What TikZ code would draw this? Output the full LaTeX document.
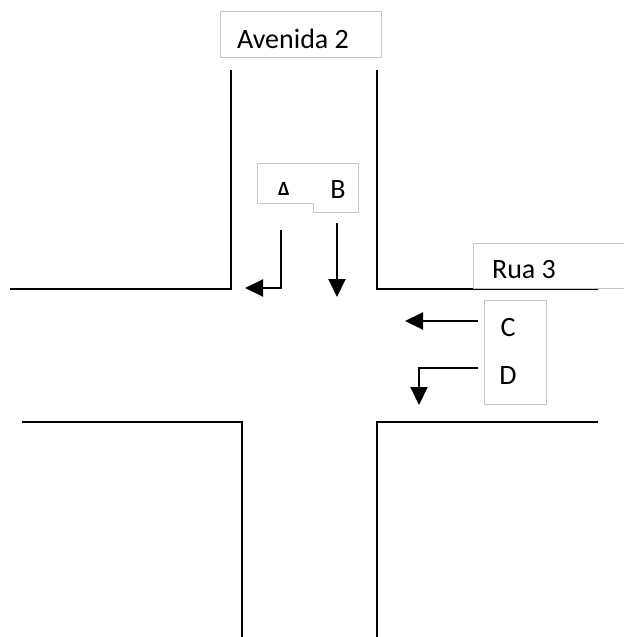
\documentclass[tikz,border=0pt]{standalone}
\usepackage{fontspec}
\setmainfont{Carlito}
\usetikzlibrary{arrows.meta,positioning}

\begin{document}
\begin{tikzpicture}[
  x=0.5pt,y=-0.5pt,font=\fontsize{14}{16}\selectfont,
  road/.style={line width=1pt},
  sign/.style={draw=gray!45,line width=0.5pt},
  lbl/.style={inner sep=0pt,anchor=base},
  ar/.style={-{Triangle[length=9pt,width=8.5pt]},line width=1pt}
]
\useasboundingbox (0,0) rectangle (624,637);
% street corners
\draw[road] (10,289) -- (231,289) -- (231,70);
\draw[road] (377,70) -- (377,289) -- (598,289);
\draw[road] (22,422) -- (242,422) -- (242,637);
\draw[road] (377,637) -- (377,422) -- (598,422);
% signs
\draw[sign] (220,11) rectangle (381,57);
\node[lbl] (av) at (293,48) {Avenida 2};
\draw[sign] (624,243) -- (473,243) -- (473,288) -- (624,288);
\node[lbl] (rua) at (524,278) {Rua 3};
\draw[sign] (257,163) -- (358,163) -- (358,212) -- (313,212) -- (313,203) -- (257,203) -- cycle;
\node[lbl,font=\fontsize{10}{11}\selectfont\bfseries] (a) at (284,195) {Δ};
\node[lbl] (b) at (338,198) {B};
\draw[sign] (484,300) rectangle (546,404);
\node[lbl] (c) at (508,336) {C};
\node[lbl] (d) at (508,384) {D};
% lanes
\coordinate (a0) at (281,230); \coordinate (a1) at (245,288);
\coordinate (b0) at (337,223); \coordinate (b1) at (337,297);
\coordinate (c0) at (478,321); \coordinate (c1) at (405,321);
\coordinate (d0) at (478,368); \coordinate (d1) at (419,405);
\draw[ar] (a0) |- (a1);
\draw[ar] (b0) -- (b1);
\draw[ar] (c0) -- (c1);
\draw[ar] (d0) -| (d1);
\end{tikzpicture}
\end{document}
